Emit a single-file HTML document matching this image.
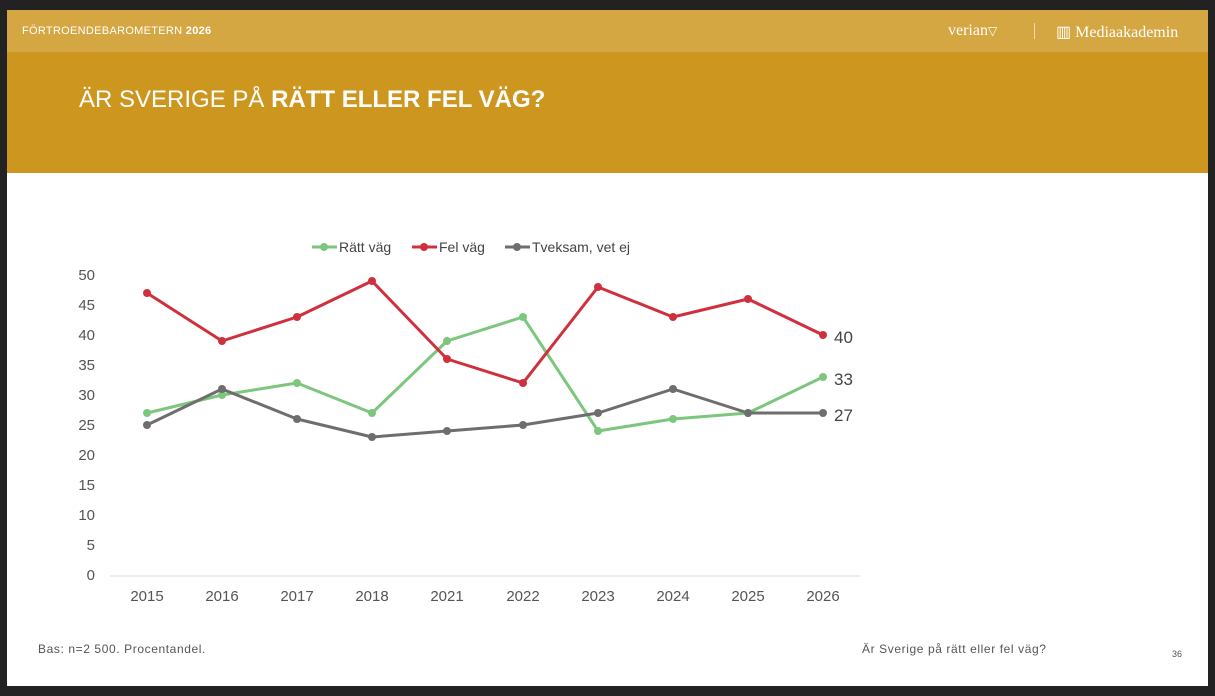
<!DOCTYPE html>
<html><head><meta charset="utf-8"><style>
body{margin:0;width:1215px;height:696px;background:#222;position:relative;overflow:hidden;font-family:"Liberation Sans",sans-serif}
.top{position:absolute;left:7px;top:10px;width:1201px;height:42px;background:#d5a742}
.hdr{position:absolute;left:7px;top:52px;width:1201px;height:121px;background:#cd961f}
.main{position:absolute;left:7px;top:173px;width:1201px;height:513px;background:#fff}
</style></head><body>
<div class="top"></div><div class="hdr"></div><div class="main"></div>
<div style="position:absolute;left:22px;top:25px;color:#fff;font-size:11px;letter-spacing:0.3px">FÖRTROENDEBAROMETERN <b>2026</b></div>
<div style="position:absolute;left:948px;top:22px;color:#fff;font-family:'Liberation Serif',serif;font-size:16px">verian<span style="font-size:12px">▽</span></div>
<div style="position:absolute;left:1034px;top:23px;width:1px;height:16px;background:#f0dca8"></div>
<div style="position:absolute;left:1056px;top:22px;color:#fff;font-family:'Liberation Serif',serif;font-size:16px">▥ Mediaakademin</div>
<div style="position:absolute;left:79px;top:86px;color:#fff;font-size:24px">ÄR SVERIGE PÅ <b>RÄTT ELLER FEL VÄG?</b></div>
<svg style="position:absolute;left:0;top:0" width="1215" height="696" font-family="Liberation Sans, sans-serif">
<g fill="#555" font-size="15" text-anchor="end">
<text x="95" y="580">0</text><text x="95" y="550">5</text><text x="95" y="520">10</text><text x="95" y="490">15</text><text x="95" y="460">20</text><text x="95" y="430">25</text><text x="95" y="400">30</text><text x="95" y="370">35</text><text x="95" y="340">40</text><text x="95" y="310">45</text><text x="95" y="280">50</text>
</g>
<line x1="110" y1="576" x2="860" y2="576" stroke="#d9d9d9" stroke-width="1"/>
<g fill="#555" font-size="15" text-anchor="middle">
<text x="147" y="601">2015</text><text x="222" y="601">2016</text><text x="297" y="601">2017</text><text x="372" y="601">2018</text><text x="447" y="601">2021</text><text x="523" y="601">2022</text><text x="598" y="601">2023</text><text x="673" y="601">2024</text><text x="748" y="601">2025</text><text x="823" y="601">2026</text>
</g>
<g fill="none" stroke-width="3" stroke-linejoin="round">
<polyline stroke="#7dc67e" points="147,413 222,395 297,383 372,413 447,341 523,317 598,431 673,419 748,413 823,377"/>
<polyline stroke="#d0303d" points="147,293 222,341 297,317 372,281 447,359 523,383 598,287 673,317 748,299 823,335"/>
<polyline stroke="#6e6e6e" points="147,425 222,389 297,419 372,437 447,431 523,425 598,413 673,389 748,413 823,413"/>
</g>
<g fill="#7dc67e"><circle cx="147" cy="413" r="4"/><circle cx="222" cy="395" r="4"/><circle cx="297" cy="383" r="4"/><circle cx="372" cy="413" r="4"/><circle cx="447" cy="341" r="4"/><circle cx="523" cy="317" r="4"/><circle cx="598" cy="431" r="4"/><circle cx="673" cy="419" r="4"/><circle cx="748" cy="413" r="4"/><circle cx="823" cy="377" r="4"/></g>
<g fill="#d0303d"><circle cx="147" cy="293" r="4"/><circle cx="222" cy="341" r="4"/><circle cx="297" cy="317" r="4"/><circle cx="372" cy="281" r="4"/><circle cx="447" cy="359" r="4"/><circle cx="523" cy="383" r="4"/><circle cx="598" cy="287" r="4"/><circle cx="673" cy="317" r="4"/><circle cx="748" cy="299" r="4"/><circle cx="823" cy="335" r="4"/></g>
<g fill="#6e6e6e"><circle cx="147" cy="425" r="4"/><circle cx="222" cy="389" r="4"/><circle cx="297" cy="419" r="4"/><circle cx="372" cy="437" r="4"/><circle cx="447" cy="431" r="4"/><circle cx="523" cy="425" r="4"/><circle cx="598" cy="413" r="4"/><circle cx="673" cy="389" r="4"/><circle cx="748" cy="413" r="4"/><circle cx="823" cy="413" r="4"/></g>
<g fill="#444" font-size="17"><text x="834" y="343">40</text><text x="834" y="385">33</text><text x="834" y="421">27</text></g>
<g font-size="14" fill="#444">
<line x1="312" y1="247" x2="337" y2="247" stroke="#7dc67e" stroke-width="3"/><circle cx="324" cy="247" r="4" fill="#7dc67e"/><text x="339" y="252">Rätt väg</text>
<line x1="412" y1="247" x2="437" y2="247" stroke="#d0303d" stroke-width="3"/><circle cx="424" cy="247" r="4" fill="#d0303d"/><text x="439" y="252">Fel väg</text>
<line x1="505" y1="247" x2="530" y2="247" stroke="#6e6e6e" stroke-width="3"/><circle cx="517" cy="247" r="4" fill="#6e6e6e"/><text x="532" y="252">Tveksam, vet ej</text>
</g>
<text x="38" y="653" font-size="12" fill="#555" letter-spacing="0.6">Bas: n=2 500. Procentandel.</text>
<text x="862" y="653" font-size="12" fill="#555" letter-spacing="0.6">Är Sverige på rätt eller fel väg?</text>
<text x="1172" y="657" font-size="9" fill="#555">36</text>
</svg>
</body></html>
